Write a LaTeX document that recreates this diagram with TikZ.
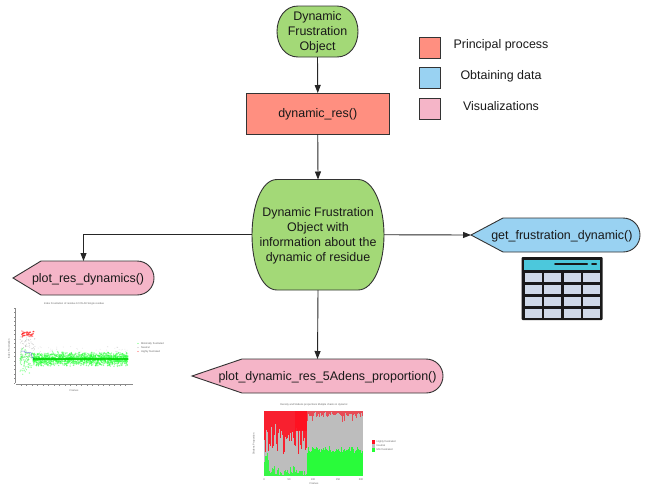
\documentclass[tikz,border=0pt]{standalone}
\usepackage{fontspec}
\setmainfont{Liberation Sans}
\usetikzlibrary{arrows.meta}
\definecolor{ngreen}{HTML}{A3D977}
\definecolor{nred}{HTML}{FF8F80}
\definecolor{nblue}{HTML}{99D2F2}
\definecolor{npink}{HTML}{F5B5C8}
\definecolor{edge}{HTML}{333333}
\definecolor{tealhead}{HTML}{4CC8DC}
\definecolor{cellc}{HTML}{CFD9E8}
\definecolor{tickc}{HTML}{8A8A8A}
\definecolor{pgreen}{HTML}{22FF33}
\definecolor{pgray}{HTML}{BDBDBD}
\definecolor{pred}{HTML}{FF1020}
\newcommand\dn{\rule{0pt}{11pt}}
\tikzset{
  lbl/.style={inner sep=0pt,outer sep=0pt,align=center,text=black!90,font=\fontsize{12.45}{15}\selectfont},
  shapeline/.style={draw=edge,line width=0.9pt},
  conn/.style={draw=black!85,line width=0.9pt,-{Triangle[length=8pt,width=6pt]}},
  legbox/.style={rectangle,draw=edge,line width=0.9pt,minimum width=21pt,minimum height=21pt,inner sep=0pt,outer sep=0pt},
  tiny/.style={inner sep=0pt,text=black!60,font=\fontsize{2.6}{3}\selectfont},
  tickl/.style={draw=tickc,line width=0.3pt},
}
\begin{document}
\begin{tikzpicture}[x=1pt,y=-1pt]
\useasboundingbox (0,0) rectangle (650,496);

% shapes
\path[shapeline,fill=ngreen] (298,6) -- (337,6) .. controls (350,6) and (358,18) .. (358,31.5) .. controls (358,45) and (350,57) .. (337,57) -- (298,57) .. controls (285,57) and (277,45) .. (277,31.5) .. controls (277,18) and (285,6) .. (298,6) -- cycle;
\path[shapeline,fill=ngreen] (277,179.5) -- (358,179.5) .. controls (374,179.5) and (384,207) .. (384,235) .. controls (384,263) and (374,290) .. (358,290) -- (277,290) .. controls (261,290) and (252,263) .. (252,235) .. controls (252,207) and (261,179.5) .. (277,179.5) -- cycle;
\path[shapeline,fill=npink] (13,278) -- (41,261) -- (137,261) .. controls (147,261) and (154,269) .. (154,278) .. controls (154,287) and (147,295) .. (137,295) -- (41,295) -- cycle;
\path[shapeline,fill=nblue] (471,235) -- (503,218) -- (623,218) .. controls (633,218) and (640,226) .. (640,235) .. controls (640,244) and (633,252) .. (623,252) -- (503,252) -- cycle;
\path[shapeline,fill=npink] (192,376) -- (242,359) -- (426,359) .. controls (436,359) and (443,367) .. (443,376) .. controls (443,385) and (436,393) .. (426,393) -- (242,393) -- cycle;

% nodes
\node[lbl,minimum width=81pt,minimum height=51pt] (obj) at (317.5,31.5) {\dn Dynamic\\Frustration\\Object};
\node[lbl,rectangle,draw=edge,line width=0.9pt,fill=nred,minimum width=142.5pt,minimum height=41pt] (res) at (317.75,113.5) {\dn dynamic\_res()};
\node[lbl,minimum width=132pt,minimum height=110.5pt] (rich) at (318,234.75) {\dn Dynamic Frustration\\Object with\\information about the\\dynamic of residue};
\node[lbl,minimum width=141pt,minimum height=34pt] (plotres) at (83.5,278) {\dn\kern9.2pt plot\_res\_dynamics()};
\node[lbl,minimum width=169pt,minimum height=34pt] (getf) at (555.5,235) {\dn\kern12.8pt get\_frustration\_dynamic()};
\node[lbl,minimum width=251pt,minimum height=34pt] (plot5) at (317.5,376) {\dn\kern20pt plot\_dynamic\_res\_5Adens\_proportion()};

% legend
\node[legbox,fill=nred] (legA) at (429.5,47.5) {};
\node[legbox,fill=nblue] (legB) at (429.5,78) {};
\node[legbox,fill=npink] (legC) at (429.5,108.5) {};
\node[lbl] (legAt) at (501,45.5) {Principal process};
\node[lbl] (legBt) at (501,76.5) {Obtaining data};
\node[lbl] (legCt) at (501,106.5) {Visualizations};

% connectors
\draw[conn] (obj.south) -- (res.north);
\draw[conn] (res.south) -- (rich.north);
\draw[conn] (rich.south) -- (plot5.north);
\draw[conn] (rich.east) -- (getf.west);
\draw[conn] (rich.west) -| (plotres.north);

% table icon
\fill[black!90,rounded corners=1pt] (521.5,257) rectangle (602.5,320);
\fill[tealhead] (524,259.5) rectangle (600,269.5);
\draw[black!90,line width=2pt,line cap=round] (555,264) -- (587,264);
\draw[black!90,line width=2pt,line cap=round] (592,264) -- (596,264);
\foreach \c in {0,1,2,3}{
  \foreach \r in {0,1,2,3}{
    \fill[cellc] ({524.5+\c*19.6},{272.5+\r*12}) rectangle ++(17,9.3);
  }
}

% scatter plot
\pgfmathsetseed{42}
\node[tiny] (t1) at (74,304) {Index Frustration of residue 1CO5 A8 Single residue};
\node[tiny,rotate=90] (t1y) at (9,349) {Index Frustration};
\node[tiny] (t1x) at (74,391) {Frames};
\draw[tickl] (15,308) -- (15,383);
\draw[tickl] (16,384) -- (133,384);
\foreach \k in {0,...,17}{ \draw[tickl] (15,{308+\k*4.4}) -- (13.5,{308+\k*4.4}); }
\foreach \k in {0,...,19}{ \draw[tickl] ({21+\k*5.5},384) -- ({21+\k*5.5},386); }
\foreach \k in {1,...,70}{
  \pgfmathsetmacro\px{20+15*rnd}\pgfmathsetmacro\py{336+24*rnd}
  \fill[gray,opacity=.3] (\px,\py) circle (.6);
}
\foreach \k in {1,...,50}{
  \pgfmathsetmacro\px{33+95*rnd}\pgfmathsetmacro\py{346+8*rnd}
  \fill[gray,opacity=.2] (\px,\py) circle (.5);
}
\foreach \k in {1,...,60}{
  \pgfmathsetmacro\px{21+13*rnd}\pgfmathsetmacro\py{334+4*(rnd+rnd-1)}
  \fill[red,opacity=.5] (\px,\py) circle (.7);
}
\foreach \k in {1,...,90}{
  \pgfmathsetmacro\px{20+14*rnd}\pgfmathsetmacro\py{360+15*(rnd+rnd-1)}
  \fill[pgreen,opacity=.5] (\px,\py) circle (.7);
}
\foreach \k in {1,...,1500}{
  \pgfmathsetmacro\px{33+95*rnd}\pgfmathsetmacro\py{359+7.5*(rnd+rnd-1)}
  \fill[pgreen,opacity=.5] (\px,\py) circle (.75);
}
\draw[green!80!black,opacity=.8,line width=1.6pt] (33,359) -- (128,359);
\draw[blue!60!gray,opacity=.6,line width=.5pt] (21,351) -- (24,351) -- (25,352.5) -- (31,352.5) -- (32,357) -- (34,359);
\fill[pgreen,opacity=.7] (138,343.5) circle (.7);
\fill[gray,opacity=.5] (138,347.5) circle (.7);
\fill[red,opacity=.6] (138,351.5) circle (.7);
\node[tiny,anchor=west] (l1a) at (141,343.5) {Minimally frustrated};
\node[tiny,anchor=west] (l1b) at (141,347.5) {Neutral};
\node[tiny,anchor=west] (l1c) at (141,351.5) {Highly frustrated};

% stacked plot
\pgfmathsetseed{7}
\fill[pgray] (264,411) rectangle (363,476);
\foreach \k in {0,...,42}{
  \pgfmathsetmacro\xx{264+\k}
  \pgfmathsetmacro\rd{12+18*rnd+ (\k>28 ? 0 : 6*rnd) + (rnd>.7 ? 22*rnd : 0)}
  \pgfmathsetmacro\gr{(\k<5 ? 12+14*rnd : 1+16*rnd*rnd)}
  \fill[pred,opacity=.9] (\xx,411) rectangle ({\xx+1.1},{411+\rd});
  \fill[pgreen,opacity=.85] (\xx,{476-\gr}) rectangle ({\xx+1.1},476);
}
\fill[pred,opacity=.9] (295,411) rectangle (307,431);
\foreach \k in {43,...,98}{
  \pgfmathsetmacro\xx{264+\k}
  \pgfmathsetmacro\rd{1+5*rnd+(rnd>.88 ? 10*rnd : 0)}
  \pgfmathsetmacro\gr{23+7*rnd}
  \fill[pred,opacity=.65] (\xx,411) rectangle ({\xx+1.1},{411+\rd});
  \fill[pgreen,opacity=.95] (\xx,{476-\gr}) rectangle ({\xx+1.1},476);
}
\node[tiny] (t2) at (314,405) {Density and 5Adens proportions Mutiple chains in dynamic};
\node[tiny,rotate=90] (t2y) at (254,444) {5Adens Proportion};
\node[tiny] (t2x) at (314,484) {Frames};
\foreach \xx/\lb in {264/0,289/50,313/100,338/150,361/200}{ \node[tiny] at (\xx,480) {\lb}; }
\fill[pred] (371.5,440) rectangle (375,444);
\fill[pgray] (371.5,444) rectangle (375,448);
\fill[pgreen] (371.5,448) rectangle (375,452);
\node[tiny,anchor=west] (l2a) at (376.5,442) {Highly frustrated};
\node[tiny,anchor=west] (l2b) at (376.5,446) {Neutral};
\node[tiny,anchor=west] (l2c) at (376.5,450) {Min frustrated};
\end{tikzpicture}
\end{document}
